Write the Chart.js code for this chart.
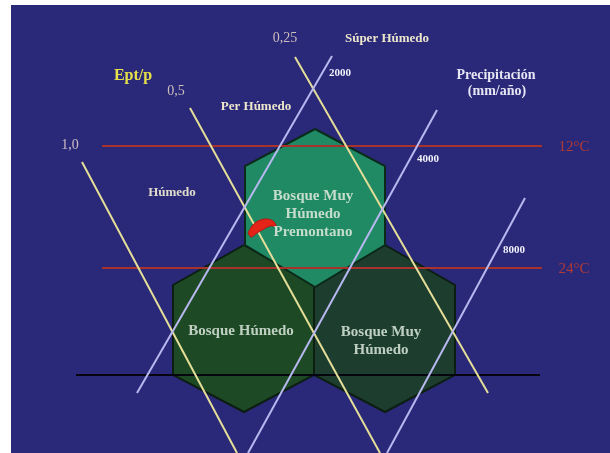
<!DOCTYPE html>
<html>
<head>
<meta charset="utf-8">
<style>
  html, body { margin: 0; padding: 0; background: #fff; }
  #chart { display: block; }
</style>
</head>
<body>
<canvas id="chart" width="610" height="453"></canvas>
<script src="https://cdn.jsdelivr.net/npm/chart.js@4/dist/chart.umd.min.js"></script>
<script>
// diagram coordinates: x 0..610 left to right, y 0..453 top to bottom

// Ept/p lines (yellow), upper end -> lower end
const eptValues = ['1,0', '0,5', '0,25'];
const eptStart = [[82, 162], [190, 108], [295, 57]];
const eptEnd = [[237, 453], [380, 453], [488, 393]];

// precipitation lines (mm/año), upper end -> lower end
const precipValues = ['2000', '4000', '8000'];
const precipStart = [[332, 56], [437, 110], [525, 198]];
const precipEnd = [[137, 393], [248, 453], [387, 453]];

// temperature lines
const tempValues = ['12°C', '24°C'];
const tempLevel = [146, 268];
const tempRange = [102, 542];

// base line
const baseLevel = 375;
const baseRange = [76, 540];

// life zones (hexagons)
const zoneNames = [
  ['Bosque Muy', 'Húmedo', 'Premontano'],
  ['Bosque Húmedo'],
  ['Bosque Muy', 'Húmedo']
];
const zoneTop = [[315, 129], [385, 166], [385, 245], [315, 287], [245, 245], [245, 166]];
const zoneLeft = [[244, 245], [314, 285], [314, 375], [244, 412], [173, 375], [173, 285]];
const zoneRight = [[385, 245], [455, 285], [455, 375], [385, 412], [314, 375], [314, 285]];

// location marker
const marker = [[248, 233], [252, 226], [258, 221], [266, 219], [273, 221], [276, 226],
                [270, 226], [264, 229], [257, 233], [251, 237]];

const pts = arr => arr.map(p => ({ x: p[0], y: p[1] }));
const closed = arr => pts(arr.concat([arr[0]]));

const datasets = [];

function line(points, color, width, order) {
  datasets.push({
    data: pts(points), showLine: true, borderColor: color, borderWidth: width,
    pointRadius: 0, fill: false, order: order
  });
}
function poly(points, fillColor, edge, width, order, tension) {
  datasets.push({
    data: closed(points), showLine: true, fill: 'shape', backgroundColor: fillColor,
    borderColor: edge, borderWidth: width, pointRadius: 0, order: order, tension: tension || 0
  });
}

poly(zoneLeft, '#1d4a24', '#0c1e12', 2, 100);
poly(zoneRight, '#1d3d2e', '#0c1e12', 2, 99);
poly(zoneTop, '#1f8a64', '#0c2a1a', 2, 98);
tempLevel.forEach(y => line([[tempRange[0], y], [tempRange[1], y]], '#a8322c', 2, 90));
line([[baseRange[0], baseLevel], [baseRange[1], baseLevel]], '#050510', 2, 85);
eptStart.forEach((s, i) => line([s, eptEnd[i]], '#e4de98', 2, 80));
precipStart.forEach((s, i) => line([s, precipEnd[i]], '#b8b8f0', 2, 79));
poly(marker, '#e42418', '#b81410', 1, 1, 0.35);

// text annotations: [text, x, y, colour, size, weight]
const notes = [
  ['Ept/p', 133, 76, '#e6e04a', 16, 'bold'],
  ['0,5', 176, 91, '#cdbfbf', 14, 'normal'],
  ['0,25', 285, 38, '#cdbfbf', 14, 'normal'],
  ['1,0', 70, 145, '#cdbfc4', 14, 'normal'],
  ['Súper Húmedo', 387, 39, '#ece6cc', 13, 'bold'],
  ['Per Húmedo', 256, 107, '#ece6cc', 13, 'bold'],
  ['Húmedo', 172, 193, '#e0dccc', 13, 'bold'],
  ['Precipitación', 496, 75, '#e6e6f4', 14, 'bold'],
  ['(mm/año)', 497, 91, '#e6e6f4', 14, 'bold'],
  [precipValues[0], 340, 73, '#f0f0f8', 11, 'bold'],
  [precipValues[1], 428, 159, '#f0f0f8', 11, 'bold'],
  [precipValues[2], 514, 250, '#f0f0f8', 11, 'bold'],
  [tempValues[0], 574, 147, '#b03a36', 15, 'normal'],
  [tempValues[1], 574, 269, '#b03a36', 15, 'normal']
];
const zoneLabelPos = [[313, 196], [241, 331], [381, 332]];

const background = {
  id: 'background',
  beforeDraw(chart) {
    const { ctx, scales: { x, y } } = chart;
    ctx.save();
    ctx.fillStyle = '#ffffff';
    ctx.fillRect(0, 0, chart.width, chart.height);
    ctx.fillStyle = '#2a2879';
    const x0 = x.getPixelForValue(11), y0 = y.getPixelForValue(5);
    ctx.fillRect(x0, y0, x.getPixelForValue(610) - x0, y.getPixelForValue(453) - y0);
    ctx.restore();
  }
};

const labels = {
  id: 'labels',
  afterDatasetsDraw(chart) {
    const { ctx, scales: { x, y } } = chart;
    ctx.save();
    ctx.textAlign = 'center';
    ctx.textBaseline = 'middle';
    notes.forEach(n => {
      ctx.font = n[5] + ' ' + n[4] + 'px "Liberation Serif"';
      ctx.fillStyle = n[3];
      ctx.fillText(n[0], x.getPixelForValue(n[1]), y.getPixelForValue(n[2]));
    });
    ctx.font = 'bold 15px "Liberation Serif"';
    zoneNames.forEach((lines, i) => {
      ctx.fillStyle = i === 0 ? '#c6dccc' : '#bfcfc2';
      lines.forEach((t, j) => {
        ctx.fillText(t, x.getPixelForValue(zoneLabelPos[i][0]), y.getPixelForValue(zoneLabelPos[i][1] + j * 18));
      });
    });
    ctx.restore();
  }
};

new Chart(document.getElementById('chart'), {
  type: 'scatter',
  data: { datasets },
  options: {
    responsive: false,
    animation: false,
    layout: { padding: 0 },
    plugins: { legend: { display: false }, tooltip: { enabled: false } },
    scales: {
      x: { type: 'linear', min: 0, max: 610, display: false },
      y: { type: 'linear', min: 0, max: 453, reverse: true, display: false }
    }
  },
  plugins: [background, labels]
});
</script>
</body>
</html>
